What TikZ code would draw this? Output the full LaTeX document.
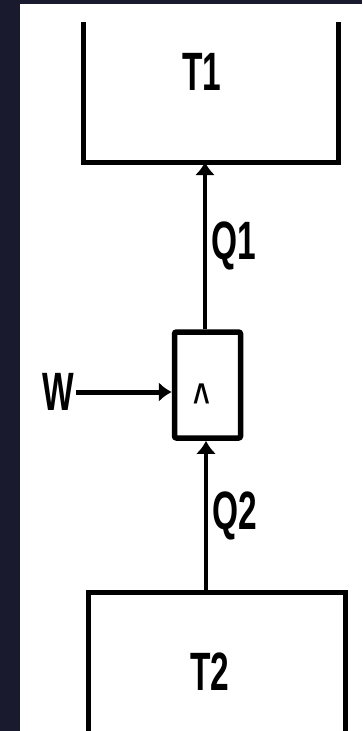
\documentclass[tikz,border=0pt]{standalone}
\usepackage{fontspec}
\setmainfont{Liberation Sans}
\usepackage{graphicx}
\usepackage{xcolor}
\usepackage{tikz}
\usetikzlibrary{arrows.meta,positioning}
\definecolor{FrameDark}{HTML}{1A1A2E}
\definecolor{InkBlack}{HTML}{000000}
\newcommand{\slimtext}[1]{\scalebox{0.62}[1]{#1}}

\begin{document}
\begin{tikzpicture}[
  x=1pt, y=-1pt,
  tag/.style={font=\bfseries\fontsize{54}{54}\selectfont, inner sep=2pt, text=InkBlack},
  wall/.style={draw=InkBlack, line width=5pt, line join=miter},
  engine/.style={draw=InkBlack, line width=5.5pt, rounded corners=2pt, fill=white, minimum width=66pt, minimum height=106pt, inner sep=0pt},
  flow/.style={-{Latex[length=13pt,width=20pt]}, line width=4pt, draw=InkBlack}
]
\fill[FrameDark] (0,0) rectangle (362,731);
\fill[white] (20,4) rectangle (362,731);
\useasboundingbox (0,0) rectangle (362,731);

\draw[wall] (83,22) -- (83,162) -- (338,162) -- (338,22);
\coordinate (t1in) at (205,162);
\node[tag] (t1) at (202,72) {\slimtext{T1}};

\node[engine] (eng) at (207.5,385) {};
\node[font=\bfseries\fontsize{46}{46}\selectfont, inner sep=0pt] (caret) at (202,400) {\slimtext{\textasciicircum}};

\node[tag] (w) at (58,392) {\slimtext{W}};

\draw[wall] (88,731) -- (88,592) -- (345,592) -- (345,731);
\coordinate (t2out) at (206,592);
\node[tag] (t2) at (210,672) {\slimtext{T2}};

\draw[flow, line width=5pt] (w.east) -- (w.east -| eng.west);
\draw[flow] (eng.north -| t1in) -- (t1in) node[tag, midway, right=2pt] {\slimtext{Q1}};
\draw[flow] (t2out) -- (t2out |- eng.south) node[tag, midway, right=2pt] {\slimtext{Q2}};
\end{tikzpicture}
\end{document}
